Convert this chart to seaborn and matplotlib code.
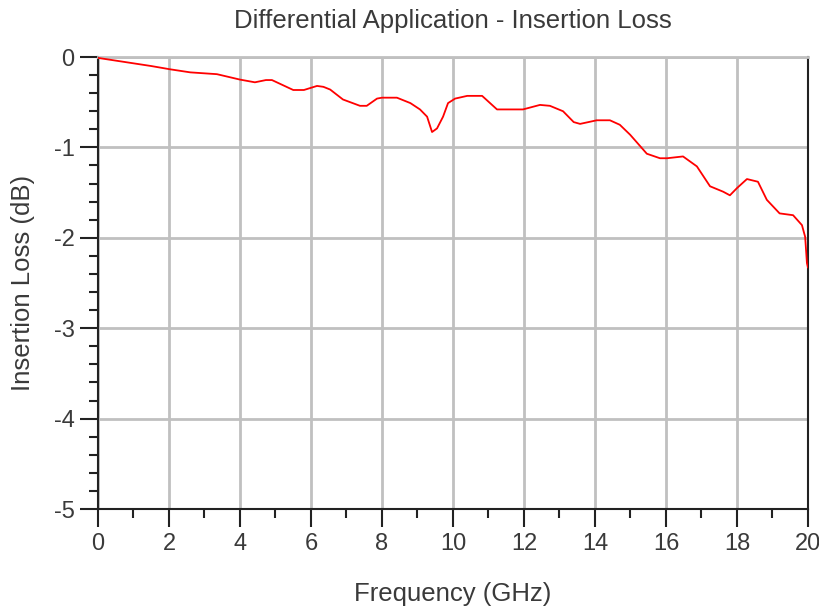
import numpy as np
import pandas as pd
import matplotlib
matplotlib.use("Agg")
import matplotlib.pyplot as plt
import seaborn as sns
from matplotlib.ticker import MultipleLocator

# Insertion loss curve
freq_ghz = [0.0, 0.5, 1.0, 1.5, 2.03, 2.6, 3.35, 4.0, 4.42, 4.73, 4.9, 5.5, 5.8,
            6.17, 6.35, 6.54, 6.9, 7.38, 7.57, 7.86, 8.0, 8.42, 8.8, 9.07, 9.27,
            9.41, 9.55, 9.72, 9.86, 10.06, 10.4, 10.82, 11.24, 11.6, 11.97,
            12.45, 12.73, 13.1, 13.4, 13.58, 14.05, 14.42, 14.7, 14.99, 15.46,
            15.83, 16.03, 16.48, 16.87, 17.24, 17.61, 17.8, 18.0, 18.28, 18.59,
            18.84, 19.2, 19.58, 19.83, 19.92, 19.97, 20.0]
loss_db = [-0.01, -0.04, -0.07, -0.10, -0.136, -0.17, -0.19, -0.25, -0.28, -0.255,
           -0.255, -0.365, -0.365, -0.32, -0.33, -0.36, -0.47, -0.54, -0.54,
           -0.46, -0.45, -0.45, -0.51, -0.58, -0.66, -0.83, -0.79, -0.66, -0.51,
           -0.46, -0.43, -0.43, -0.58, -0.58, -0.58, -0.53, -0.54, -0.60, -0.72,
           -0.74, -0.70, -0.70, -0.75, -0.86, -1.07, -1.12, -1.12, -1.10, -1.21,
           -1.43, -1.49, -1.53, -1.45, -1.35, -1.38, -1.58, -1.73, -1.75, -1.86,
           -1.99, -2.28, -2.33]

df = pd.DataFrame({"Frequency (GHz)": freq_ghz, "Insertion Loss (dB)": loss_db})

sns.set_style("white")
plt.rcParams['font.family'] = ['Liberation Sans', 'DejaVu Sans']
plt.rcParams['axes.unicode_minus'] = False
txt = "#3a3a3a"

fig = plt.figure(figsize=(8.2, 6.08), dpi=100)
ax = fig.add_axes([98 / 820, 1 - 509 / 608, 710 / 820, 452 / 608])

sns.lineplot(data=df, x="Frequency (GHz)", y="Insertion Loss (dB)", ax=ax,
             color="#ff0000", linewidth=1.3, zorder=3)

ax.set_xlim(0, 20)
ax.set_ylim(-5, 0)
ax.xaxis.set_major_locator(MultipleLocator(2))
ax.xaxis.set_minor_locator(MultipleLocator(1))
ax.yaxis.set_major_locator(MultipleLocator(1))
ax.yaxis.set_minor_locator(MultipleLocator(0.2))
ax.grid(True, which="major", color="#c0c0c0", linewidth=2)
ax.set_axisbelow(True)

ax.tick_params(which="major", direction="out", length=13, width=1.5, color="#222222",
               labelsize=17, labelcolor=txt, left=True, bottom=True, pad=4)
ax.tick_params(which="minor", direction="out", length=6.5, width=1.5, color="#222222",
               left=True, bottom=True)

for side in ["left", "bottom", "right"]:
    ax.spines[side].set_color("#222222")
    ax.spines[side].set_linewidth(1.5)
ax.spines["top"].set_color("#c0c0c0")
ax.spines["top"].set_linewidth(2)

ax.set_title("Differential Application - Insertion Loss", fontsize=18.5, color=txt, pad=21)
ax.set_xlabel("Frequency (GHz)", fontsize=18.5, color=txt, labelpad=20)
ax.set_ylabel("Insertion Loss (dB)", fontsize=18.5, color=txt, labelpad=13)

fig.savefig("out.png", dpi=100)
